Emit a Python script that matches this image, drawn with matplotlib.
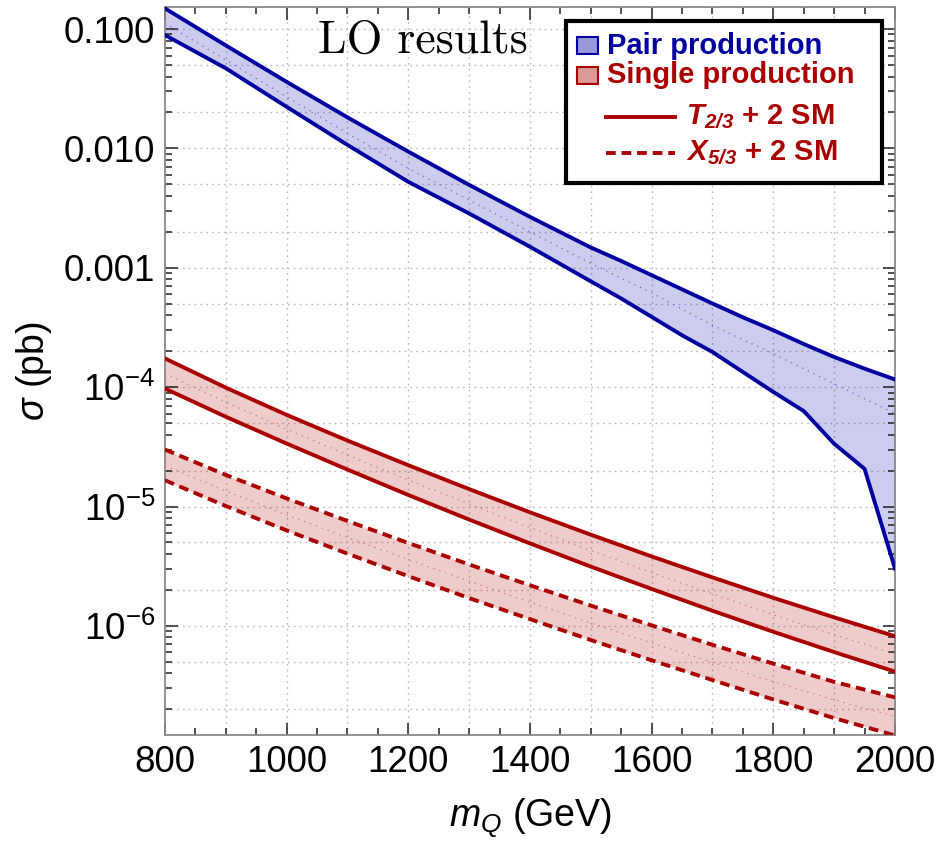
import matplotlib
matplotlib.use('Agg')

import matplotlib.pyplot as plt
from matplotlib.patches import Rectangle
from matplotlib.lines import Line2D
from matplotlib.ticker import MultipleLocator, LogLocator, NullFormatter

plt.rcParams['font.family'] = ['Liberation Sans', 'DejaVu Sans']
plt.rcParams['mathtext.fontset'] = 'custom'
plt.rcParams['mathtext.rm'] = 'Liberation Sans'
plt.rcParams['mathtext.it'] = 'Liberation Sans:italic'
plt.rcParams['mathtext.bf'] = 'Liberation Sans:bold'
plt.rcParams['mathtext.bfit'] = 'Liberation Sans:bold:italic'

# --- data (sigma in pb vs heavy quark mass in GeV) ---
m_pair = [800, 900, 1000, 1100, 1200, 1300, 1400, 1500, 1550, 1600,
          1650, 1700, 1750, 1800, 1850, 1900, 1950, 2000]
pair_hi = [0.149, 0.0729, 0.0361, 0.0182, 0.0094, 0.00495, 0.00267, 0.00148,
           0.00114, 8.67e-4, 6.6e-4, 5.02e-4, 3.85e-4, 3.0e-4, 2.3e-4,
           1.79e-4, 1.43e-4, 1.16e-4]
pair_lo = [0.089, 0.0469, 0.0223, 0.0107, 0.00525, 0.00285, 0.0015, 7.7e-4,
           5.53e-4, 3.88e-4, 2.72e-4, 1.97e-4, 1.34e-4, 9.12e-5, 6.31e-5,
           3.36e-5, 2.07e-5, 3.03e-6]
pair_mid = [0.112, 0.055, 0.0271, 0.0134, 0.0068, 0.00369, 0.0020, 1.09e-3,
            8.2e-4, 6.17e-4, 4.5e-4, 3.31e-4, 2.5e-4, 1.91e-4, 1.43e-4,
            1.07e-4, 8.0e-5, 6.04e-5]

m_single = [800, 900, 1000, 1100, 1200, 1300, 1400, 1500, 1600, 1700,
            1800, 1900, 2000]
t23_hi = [1.74e-4, 9.91e-5, 5.86e-5, 3.57e-5, 2.22e-5, 1.40e-5, 8.95e-6,
          5.81e-6, 3.82e-6, 2.55e-6, 1.72e-6, 1.18e-6, 8.2e-7]
t23_lo = [9.73e-5, 5.65e-5, 3.37e-5, 2.04e-5, 1.25e-5, 7.78e-6, 4.91e-6,
          3.14e-6, 2.04e-6, 1.34e-6, 8.93e-7, 6.04e-7, 4.14e-7]
t23_mid = [1.3e-4, 7.5e-5, 4.45e-5, 2.7e-5, 1.67e-5, 1.05e-5, 6.65e-6,
           4.28e-6, 2.8e-6, 1.85e-6, 1.24e-6, 8.45e-7, 5.85e-7]
x53_hi = [3.0e-5, 1.84e-5, 1.17e-5, 7.57e-6, 4.95e-6, 3.27e-6, 2.19e-6,
          1.48e-6, 1.01e-6, 6.95e-7, 4.83e-7, 3.40e-7, 2.52e-7]
x53_lo = [1.66e-5, 1.01e-5, 6.31e-6, 4.03e-6, 2.61e-6, 1.71e-6, 1.14e-6,
          7.62e-7, 5.15e-7, 3.52e-7, 2.42e-7, 1.69e-7, 1.21e-7]
x53_mid = [2.2e-5, 1.35e-5, 8.5e-6, 5.5e-6, 3.6e-6, 2.37e-6, 1.58e-6,
           1.06e-6, 7.2e-7, 4.95e-7, 3.42e-7, 2.4e-7, 1.75e-7]

grid_x = [900, 1000, 1100, 1200, 1300, 1400, 1500, 1600, 1700, 1800, 1900]
grid_y = [2e-7, 5e-7, 1e-6, 2e-6, 5e-6, 1e-5, 2e-5, 5e-5, 1e-4, 2e-4, 5e-4,
          1e-3, 2e-3, 5e-3, 1e-2, 2e-2, 5e-2, 0.1]
ytick_vals = [1e-6, 1e-5, 1e-4, 1e-3, 1e-2, 0.1]
ytick_labels = [r'$10^{-6}$', r'$10^{-5}$', r'$10^{-4}$', '0.001', '0.010', '0.100']

BLUE = '#0000a0'
RED = '#aa0000'
DASH = (0, (2.5, 1.5))

fig = plt.figure(figsize=(9.53, 8.42), dpi=100)
ax = fig.add_axes([0.1731, 0.1271, 0.766, 0.8646])
ax.set_yscale('log')
ax.set_xlim(800, 2000)
ax.set_ylim(1.22e-7, 0.153)

# grid
for v in grid_x:
    ax.axvline(v, color='#b8b8b8', ls=(0, (1.2, 3)), lw=1.0, zorder=0)
for v in grid_y:
    ax.axhline(v, color='#b8b8b8', ls=(0, (1.2, 3)), lw=1.0, zorder=0)

# pair production band
ax.fill_between(m_pair, pair_lo, pair_hi, color=(0.0, 0.0, 0.7), alpha=0.2,
                lw=0, zorder=1)
ax.plot(m_pair, pair_hi, color=BLUE, lw=2.8, zorder=3)
ax.plot(m_pair, pair_lo, color=BLUE, lw=2.8, zorder=3)
ax.plot(m_pair, pair_mid, color='#6a6ae0', lw=0.9, ls=(0, (1, 4)), zorder=2)

# single production bands
ax.fill_between(m_single, t23_lo, t23_hi, color=(0.7, 0.0, 0.0), alpha=0.2,
                lw=0, zorder=1)
ax.plot(m_single, t23_hi, color=RED, lw=2.8, zorder=3)
ax.plot(m_single, t23_lo, color=RED, lw=2.8, zorder=3)
ax.plot(m_single, t23_mid, color='#e07070', lw=0.9, ls=(0, (1, 4)), zorder=2)

ax.fill_between(m_single, x53_lo, x53_hi, color=(0.7, 0.0, 0.0), alpha=0.2,
                lw=0, zorder=1)
ax.plot(m_single, x53_hi, color=RED, lw=2.8, ls=DASH, zorder=3)
ax.plot(m_single, x53_lo, color=RED, lw=2.8, ls=DASH, zorder=3)
ax.plot(m_single, x53_mid, color='#e07070', lw=0.9, ls=(0, (1, 4)), zorder=2)

# axes styling
for s in ax.spines.values():
    s.set_color('#888888')
    s.set_linewidth(1.3)
ax.xaxis.set_major_locator(MultipleLocator(200))
ax.xaxis.set_minor_locator(MultipleLocator(50))
ax.set_yticks(ytick_vals)
ax.set_yticklabels(ytick_labels)
ax.yaxis.set_minor_locator(LogLocator(base=10, subs=[2, 3, 4, 5, 6, 7, 8, 9]))
ax.yaxis.set_minor_formatter(NullFormatter())
ax.tick_params(which='both', direction='in', top=True, right=True,
               color='#222222', width=1.1, labelsize=26.5)
ax.tick_params(which='major', length=9, pad=7)
ax.tick_params(which='minor', length=5)

ax.set_xlabel(r'$m_Q$ (GeV)', fontsize=27)
ax.set_ylabel(r'$\sigma$ (pb)', fontsize=27)
ax.xaxis.set_label_coords(0.5, -0.084)
ax.yaxis.set_label_coords(-0.152, 0.5)

ax.text(0.353, 0.953, 'LO results', transform=ax.transAxes, fontsize=33,
        family='cmr10', ha='center', va='center')

# legend drawn by hand (Mathematica style)
T = ax.transAxes
ax.add_patch(Rectangle((0.549, 0.758), 0.433, 0.223, transform=T,
                       facecolor='white', edgecolor='black', lw=3, zorder=5))
ax.add_patch(Rectangle((0.564, 0.935), 0.029, 0.024, transform=T,
                       facecolor=(0.6, 0.6, 0.85), edgecolor=BLUE, lw=1.5, zorder=6))
ax.add_patch(Rectangle((0.564, 0.894), 0.029, 0.024, transform=T,
                       facecolor=(0.85, 0.6, 0.6), edgecolor=RED, lw=1.5, zorder=6))
ax.text(0.606, 0.947, 'Pair production', transform=T, color=BLUE,
        fontsize=21, fontweight='bold', va='center', zorder=6)
ax.text(0.606, 0.906, 'Single production', transform=T, color=RED,
        fontsize=21, fontweight='bold', va='center', zorder=6)
ax.add_line(Line2D([0.604, 0.699], [0.849, 0.849], transform=T, color=RED,
                   lw=2.8, zorder=6))
ax.add_line(Line2D([0.604, 0.699], [0.800, 0.800], transform=T, color=RED,
                   lw=2.8, ls=DASH, zorder=6))
ax.text(0.714, 0.849, r'$\mathbfit{T}_{\mathbfit{2/3}}$ + 2 SM', transform=T,
        color=RED, fontsize=21, fontweight='bold', va='center', zorder=6)
ax.text(0.714, 0.800, r'$\mathbfit{X}_{\mathbfit{5/3}}$ + 2 SM', transform=T,
        color=RED, fontsize=21, fontweight='bold', va='center', zorder=6)

fig.savefig('out.png', dpi=100)
